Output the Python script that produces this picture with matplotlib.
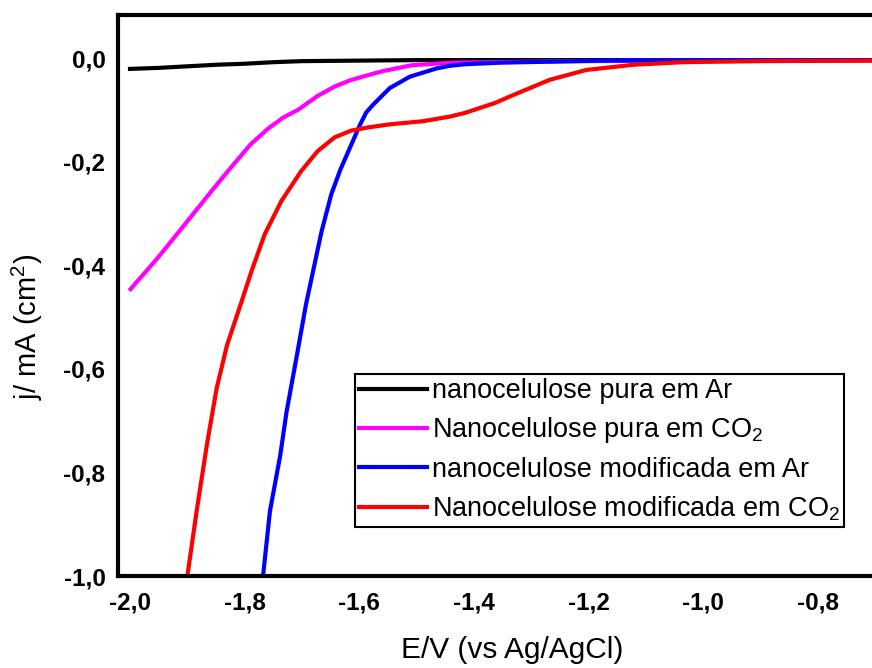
import matplotlib
matplotlib.use("Agg")
import matplotlib.pyplot as plt
from matplotlib.ticker import FuncFormatter, MultipleLocator

plt.rcParams['font.family'] = ['Liberation Sans', 'DejaVu Sans']
plt.rcParams['mathtext.fontset'] = 'custom'
plt.rcParams['mathtext.rm'] = 'Liberation Sans'
plt.rcParams['mathtext.it'] = 'Liberation Sans'
plt.rcParams['mathtext.bf'] = 'Liberation Sans:bold'

# curves (E in V, j in mA/cm2)
black_E = [-2.0, -1.95, -1.9, -1.85, -1.8, -1.75, -1.7, -1.6, -1.5, -1.4, -1.2, -1.0, -0.8, -0.706]
black_j = [-0.021, -0.019, -0.016, -0.013, -0.011, -0.008, -0.006, -0.005, -0.004, -0.004, -0.004, -0.004, -0.004, -0.004]

magenta_E = [-1.999, -1.951, -1.905, -1.858, -1.823, -1.790, -1.760, -1.733, -1.707, -1.674, -1.643,
             -1.616, -1.585, -1.558, -1.509, -1.44, -1.3, -1.1, -0.9, -0.706]
magenta_j = [-0.446, -0.385, -0.322, -0.257, -0.210, -0.167, -0.137, -0.115, -0.100, -0.074, -0.055,
             -0.043, -0.033, -0.025, -0.014, -0.009, -0.007, -0.005, -0.005, -0.004]

blue_E = [-1.768, -1.756, -1.738, -1.727, -1.709, -1.693, -1.666, -1.649, -1.633, -1.614, -1.599,
          -1.588, -1.576, -1.547, -1.512, -1.465, -1.442, -1.416, -1.355, -1.18, -1.0, -0.706]
blue_j = [-1.0, -0.875, -0.767, -0.683, -0.574, -0.475, -0.335, -0.263, -0.215, -0.167, -0.129,
          -0.105, -0.090, -0.058, -0.036, -0.020, -0.015, -0.012, -0.009, -0.005, -0.004, -0.004]

red_E = [-1.900, -1.884, -1.866, -1.849, -1.831, -1.806, -1.788, -1.765, -1.736, -1.702, -1.673,
         -1.643, -1.614, -1.585, -1.547, -1.489, -1.442, -1.416, -1.364, -1.337, -1.268, -1.204,
         -1.122, -1.035, -0.9, -0.706]
red_j = [-1.0, -0.876, -0.747, -0.638, -0.555, -0.472, -0.411, -0.340, -0.276, -0.219, -0.180,
         -0.153, -0.140, -0.134, -0.128, -0.122, -0.113, -0.106, -0.087, -0.074, -0.042, -0.023,
         -0.013, -0.008, -0.006, -0.005]

labels = ["nanocelulose pura em Ar",
          "Nanocelulose pura em CO$_2$",
          "nanocelulose modificada em Ar",
          "Nanocelulose modificada em CO$_2$"]

x_ticks_step = 0.2
y_ticks_step = 0.2

fig = plt.figure(figsize=(8.72, 6.68), dpi=100)
ax = fig.add_axes([0.1353, 0.1377, 0.8647, 0.8398])

lw = 3
ax.plot(black_E, black_j, color='black', lw=lw, label=labels[0])
ax.plot(magenta_E, magenta_j, color='#ff00ff', lw=lw, label=labels[1])
ax.plot(blue_E, blue_j, color='#0000ff', lw=lw, label=labels[2])
ax.plot(red_E, red_j, color='#ff0000', lw=lw, label=labels[3])

ax.set_xlim(-2.021, -0.706)
ax.set_ylim(-1.0, 0.083)

def comma(v, pos):
    if abs(v) < 1e-9:
        v = 0.0
    return f"{v:.1f}".replace('.', ',')

ax.xaxis.set_major_locator(MultipleLocator(x_ticks_step))
ax.yaxis.set_major_locator(MultipleLocator(y_ticks_step))
ax.xaxis.set_major_formatter(FuncFormatter(comma))
ax.yaxis.set_major_formatter(FuncFormatter(comma))
ax.tick_params(axis='both', length=0, labelsize=17.5)
ax.tick_params(axis='x', pad=11)
ax.tick_params(axis='y', pad=9)
for t in ax.get_xticklabels() + ax.get_yticklabels():
    t.set_fontweight('bold')

for s in ['left', 'bottom', 'top']:
    ax.spines[s].set_linewidth(3)
ax.spines['right'].set_visible(False)

ax.set_xlabel("E/V (vs Ag/AgCl)", fontsize=21.5)
ax.set_ylabel("j/ mA (cm$^2$)", fontsize=21)
ax.xaxis.set_label_coords(0.523, -0.107)
ax.yaxis.set_label_coords(-0.097, 0.444)

leg = ax.legend(loc='upper left', bbox_to_anchor=(0.314, 0.36), fontsize=19.5,
                frameon=True, fancybox=False, edgecolor='black', framealpha=1,
                borderpad=0.15, borderaxespad=0, handlelength=2.5, handletextpad=0.2,
                labelspacing=0.42)
leg.get_frame().set_linewidth(1.5)

fig.savefig("out.png", dpi=100)
